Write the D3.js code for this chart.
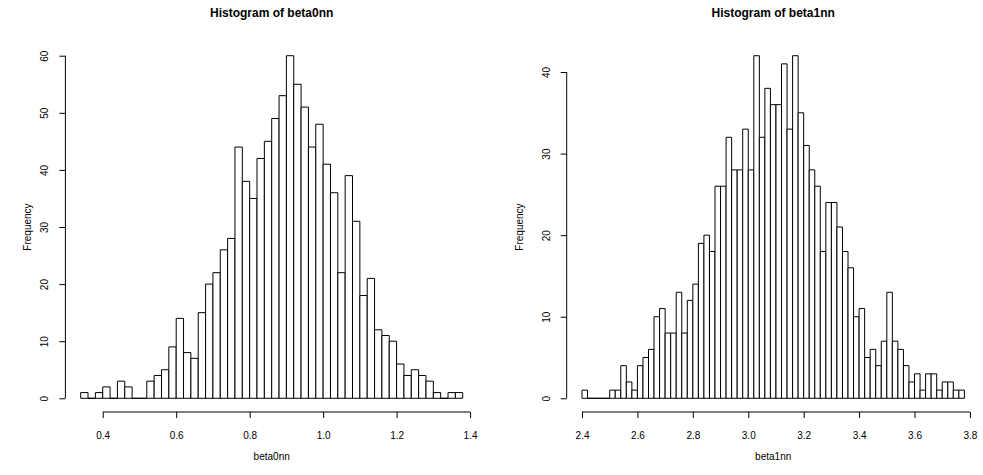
<!DOCTYPE html>
<html>
<head>
<meta charset="utf-8">
<script src="https://cdn.jsdelivr.net/npm/d3@7"></script>
<style>
  body { margin: 0; background: #fff; }
  svg { display: block; font-family: "Liberation Sans", Arial, sans-serif; }
</style>
</head>
<body>
<div id="my_chart"></div>
<script>
// counts per bin (bins of width 0.02)
var beta0Start = 0.34;
var beta0Counts = [1, 0, 1, 2, 0, 3, 2, 0, 0, 3, 4, 5, 9, 14, 8, 7, 15, 20, 22, 26, 28, 44, 38, 35,
  42, 45, 49, 53, 60, 55, 51, 44, 48, 41, 36, 22, 39, 31, 18, 21, 12, 11, 10, 6, 4, 5, 4, 3, 1, 0, 1, 1];
var beta0Ticks = [0.4, 0.6, 0.8, 1.0, 1.2, 1.4];
var beta0FreqTicks = [0, 10, 20, 30, 40, 50, 60];

var beta1Start = 2.40;
var beta1Counts = [1, 0, 0, 0, 0, 1, 1, 4, 2, 1, 4, 5, 6, 10, 11, 8, 8, 13, 8, 12, 14, 19, 20, 18, 26, 26,
  32, 28, 28, 33, 28, 42, 32, 38, 36, 36, 41, 33, 42, 35, 31, 28, 26, 18, 24, 24, 21, 18, 16, 10, 11,
  5, 6, 4, 7, 13, 7, 6, 4, 2, 3, 1, 3, 3, 1, 2, 2, 1, 1];
var beta1Ticks = [2.4, 2.6, 2.8, 3.0, 3.2, 3.4, 3.6, 3.8];
var beta1FreqTicks = [0, 10, 20, 30, 40];

var binWidth = 0.02;

var width = 983, height = 475;

var svg = d3.select("#my_chart")
  .append("svg")
  .attr("width", width)
  .attr("height", height);

// one panel per histogram
var panels = [
  { name: "beta0nn", start: beta0Start, counts: beta0Counts, xTicks: beta0Ticks, yTicks: beta0FreqTicks,
    left: 65.4, right: 478, yLabX: 31 },
  { name: "beta1nn", start: beta1Start, counts: beta1Counts, xTicks: beta1Ticks, yTicks: beta1FreqTicks,
    left: 566.7, right: 979.7, yLabX: 523 }
];

var plotTop = 42, plotBottom = 412;

panels.forEach(function(p) {
  var n = p.counts.length;
  var end = p.start + n * binWidth;
  var padX = (end - p.start) * 0.04;
  var maxC = d3.max(p.counts);

  var x = d3.scaleLinear()
    .domain([p.start - padX, end + padX])
    .range([p.left, p.right]);

  var y = d3.scaleLinear()
    .domain([-maxC * 0.04, maxC * 1.04])
    .range([plotBottom, plotTop]);

  var bins = p.counts.map(function(c, i) {
    return { x0: p.start + i * binWidth, x1: p.start + (i + 1) * binWidth, count: c };
  });

  var g = svg.append("g");

  // bars as closed paths so empty bins still show a flat line
  g.selectAll("path.bar")
    .data(bins)
    .enter()
    .append("path")
    .attr("class", "bar")
    .attr("d", function(d) {
      return "M" + x(d.x0) + "," + y(0) + "V" + y(d.count) + "H" + x(d.x1) + "V" + y(0) + "Z";
    })
    .style("fill", "white")
    .style("stroke", "black")
    .style("stroke-width", 1);

  // x axis, line only spans the ticks like R does
  var xAxis = g.append("g")
    .attr("transform", "translate(0," + plotBottom + ")")
    .call(d3.axisBottom(x).tickValues(p.xTicks).tickSize(6).tickFormat(d3.format(".1f")));
  xAxis.select(".domain").remove();
  xAxis.append("line")
    .attr("x1", x(p.xTicks[0]))
    .attr("x2", x(p.xTicks[p.xTicks.length - 1]))
    .attr("stroke", "black");
  xAxis.selectAll("text")
    .attr("y", 26.5)
    .attr("dy", null)
    .style("font-size", "10px")
    .style("fill", "#000");

  // y axis, labels parallel to the axis
  var yAxis = g.append("g")
    .attr("transform", "translate(" + p.left + ",0)")
    .call(d3.axisLeft(y).tickValues(p.yTicks).tickSize(6));
  yAxis.select(".domain").remove();
  yAxis.append("line")
    .attr("y1", y(p.yTicks[0]))
    .attr("y2", y(p.yTicks[p.yTicks.length - 1]))
    .attr("stroke", "black");
  yAxis.selectAll("text")
    .attr("x", null)
    .attr("dy", null)
    .attr("text-anchor", "middle")
    .attr("transform", "translate(-17,0) rotate(-90)")
    .style("font-size", "10px")
    .style("fill", "#000");

  var cx = (p.left + p.right) / 2;

  // title
  svg.append("text")
    .attr("x", cx)
    .attr("y", 17)
    .attr("text-anchor", "middle")
    .style("font-size", "12px")
    .style("font-weight", "bold")
    .text("Histogram of " + p.name);

  // x label
  svg.append("text")
    .attr("x", cx)
    .attr("y", 459.5)
    .attr("text-anchor", "middle")
    .style("font-size", "10px")
    .text(p.name);

  // y label
  svg.append("text")
    .attr("transform", "translate(" + p.yLabX + "," + ((plotTop + plotBottom) / 2) + ") rotate(-90)")
    .attr("text-anchor", "middle")
    .style("font-size", "10px")
    .text("Frequency");
});
</script>
</body>
</html>
